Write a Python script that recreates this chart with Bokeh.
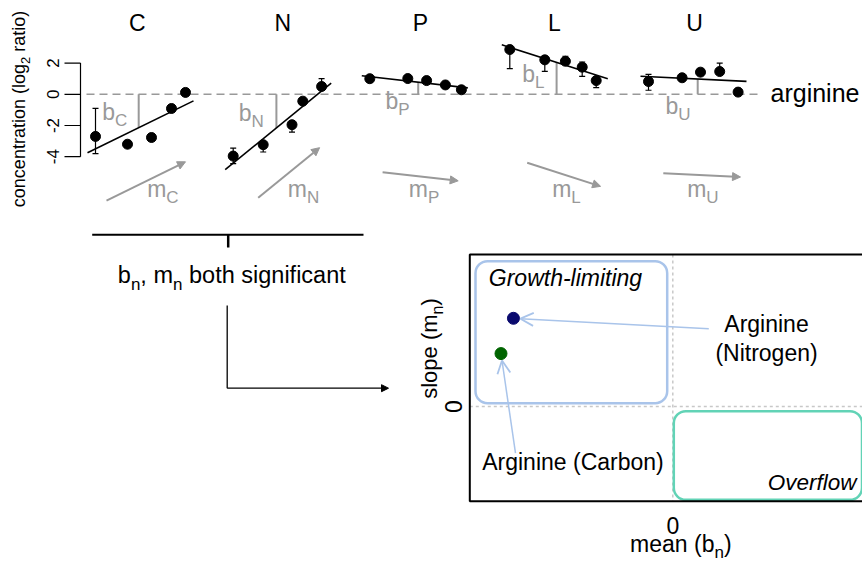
import math
from bokeh.plotting import figure
from bokeh.models import Range1d, Arrow, NormalHead, OpenHead
from bokeh.core.properties import value
from bokeh.embed import file_html
from bokeh.resources import INLINE

# ------------------------------------------------------------------ data
conditions = ["C", "N", "P", "L", "U"]

# growth rate (1/h) of each culture, per limitation
growth_C = [0.05, 0.13, 0.19, 0.24, 0.275]
growth_N = [0.05, 0.125, 0.197, 0.224, 0.271]
growth_P = [0.05, 0.145, 0.192, 0.239, 0.279]
growth_L = [0.05, 0.1375, 0.189, 0.231, 0.266]
growth_U = [0.05, 0.134, 0.18, 0.228, 0.274]

# arginine concentration (log2 ratio)
arg_C = [-2.7, -3.2, -2.77, -0.91, 0.12]
arg_N = [-3.96, -3.23, -1.95, -0.44, 0.5]
arg_P = [1.0, 1.01, 0.88, 0.6, 0.29]
arg_L = [2.87, 2.21, 2.12, 1.74, 0.88]
arg_U = [0.82, 1.06, 1.42, 1.46, 0.14]

# error bar limits
arg_lo_C = [-3.8, -3.4, -2.97, -1.11, -0.08]
arg_hi_C = [-0.9, -3.0, -2.57, -0.71, 0.32]
arg_lo_N = [-4.45, -3.7, -2.42, -0.64, 0.3]
arg_hi_N = [-3.45, -3.03, -1.75, -0.24, 1.0]
arg_lo_P = [0.85, 0.86, 0.73, 0.45, 0.14]
arg_hi_P = [1.15, 1.16, 1.03, 0.75, 0.44]
arg_lo_L = [1.65, 1.47, 1.92, 1.15, 0.43]
arg_hi_L = [3.07, 2.41, 2.44, 2.07, 1.08]
arg_lo_U = [0.26, 0.91, 1.27, 1.31, -0.01]
arg_hi_U = [1.28, 1.21, 1.57, 2.0, 0.29]

# linear fits (value at both ends of the fitted growth range)
fit_growth = [0.03, 0.295]
fit_start = [-3.75, -4.83, 1.19, 3.17, 1.16]
fit_end = [-0.42, 0.71, 0.41, 0.99, 0.83]
# growth rate at which the mean b_n is marked
mean_growth = [0.158, 0.158, 0.171, 0.167, 0.173]

conc_ticks = [-4, -2, 0, 2]
conc_tick_labels = ["-4", "-2", "0", "2"]

# summary: mean b_n vs slope m_n of arginine
summary_labels = ["Arginine (Carbon)", "Arginine (Nitrogen)"]
summary_mean = [-2.07, -1.92]
summary_slope = [12.6, 21.0]
summary_colors = ["#006400", "#0a0a6e"]

growth = dict(C=growth_C, N=growth_N, P=growth_P, L=growth_L, U=growth_U)
arg = dict(C=arg_C, N=arg_N, P=arg_P, L=arg_L, U=arg_U)
arg_lo = dict(C=arg_lo_C, N=arg_lo_N, P=arg_lo_P, L=arg_lo_L, U=arg_lo_U)
arg_hi = dict(C=arg_hi_C, N=arg_hi_N, P=arg_hi_P, L=arg_hi_L, U=arg_hi_U)

# ------------------------------------------------------------------ layout
W, H = 862, 565
FONT = "Liberation Sans"
GRAY = "#999999"
LBLUE = "#a9c4ea"
TEAL = "#62d3b6"
BASE_SHIFT = 0.36   # rendered baseline sits this fraction of the size below the anchor

p = figure(width=W, height=H, x_range=Range1d(0, W), y_range=Range1d(H, 0),
           output_backend="svg", toolbar_location=None, min_border=0,
           x_axis_location=None, y_axis_location=None, outline_line_color=None)
p.grid.visible = False

ARIAL_W = {" ": 278, "(": 333, ")": 333, ",": 278, "-": 333, "0": 556, "2": 556,
           "a": 556, "b": 556, "c": 500, "d": 556, "e": 556, "f": 278, "g": 556,
           "h": 556, "i": 222, "k": 500, "l": 222, "m": 833, "n": 556, "o": 556,
           "p": 556, "r": 333, "s": 500, "t": 278, "u": 556, "v": 500, "w": 722,
           "y": 500, "A": 667, "C": 722, "G": 778, "L": 556, "N": 722, "O": 778,
           "P": 667, "U": 722}


def tw(s, size):
    return sum(ARIAL_W.get(ch, 556) for ch in s) * size / 1000.0


def rich(x, y, parts, size, color="black", anchor="left", rotated=False,
         style="normal", sub_ratio=0.72):
    """x, y: baseline start (rotated: baseline x, start y)."""
    sub = round(size * sub_ratio)
    sizes = [sub if s else size for _, s in parts]
    widths = [tw(t, fs) for (t, _), fs in zip(parts, sizes)]
    total = sum(widths)
    start = {"left": 0, "center": -total / 2, "right": -total}[anchor]
    acc = start
    for (t, s), fs, w in zip(parts, sizes, widths):
        lead = len(t) - len(t.lstrip(" "))
        acc_t = acc + tw(" " * lead, fs)
        shift = (0.28 * size if s else 0) - BASE_SHIFT * fs
        if rotated:
            px, py, ang = x + shift, y - acc_t, math.pi / 2
        else:
            px, py, ang = x + acc_t, y + shift, 0
        p.text(x=[px], y=[py], text=[t.strip(" ")], angle=ang, text_font=value(FONT),
               text_font_size=f"{fs}px", text_color=color, text_align="left",
               text_baseline="alphabetic", text_font_style=style)
        acc += w


# ---- concentration panels
CONC_ZERO_PX = 93.8
CONC_PX = 15.6
p.extra_y_ranges["conc"] = Range1d(start=(CONC_ZERO_PX - H) / CONC_PX,
                                   end=CONC_ZERO_PX / CONC_PX)
GROWTH_PX = 400
panel_origin = [75, 212.7, 349.3, 489.3, 628]
for c, o in zip(conditions, panel_origin):
    p.extra_x_ranges["g" + c] = Range1d(start=-o / GROWTH_PX, end=(W - o) / GROWTH_PX)

# zero reference line
p.line(x=[86, 757], y=[0, 0], y_range_name="conc", line_color=GRAY,
       line_width=1.5, line_dash="8 5")

# y axis of the first panel
p.segment(x0=[80], y0=[conc_ticks[0]], x1=[80], y1=[conc_ticks[-1]],
          y_range_name="conc", line_color="black", line_width=1.2)
p.segment(x0=[64] * len(conc_ticks), y0=conc_ticks, x1=[80] * len(conc_ticks),
          y1=conc_ticks, y_range_name="conc", line_color="black", line_width=1.2)
p.text(x=[52] * len(conc_ticks), y=conc_ticks, text=conc_tick_labels,
       y_range_name="conc", angle=math.pi / 2, text_align="center",
       text_baseline="middle", text_font=value(FONT), text_font_size="17px")
rich(25, 108.5, [("concentration (log", 0), ("2", 1), (" ratio)", 0)], 18,
     rotated=True, anchor="center")

title_x = [136.7, 282.3, 420, 554, 694]
b_left = [101.7, 238.3, 385, 521.7, 665]
b_base = [119.3, 120.7, 108.3, 81.7, 113.3]
m_left = [146.7, 287.3, 408.3, 551.7, 686.7]
arrow_growth0 = [0.0775, 0.1125, 0.082, 0.0935, 0.087]
arrow_growth1 = [0.275, 0.266, 0.271, 0.277, 0.28]
arrow_level = [-6.81, -6.63, -4.99, -4.39, -5.06]

for i, c in enumerate(conditions):
    xr = "g" + c
    g = growth[c]
    frac = (mean_growth[i] - fit_growth[0]) / (fit_growth[1] - fit_growth[0])
    bval = fit_start[i] + frac * (fit_end[i] - fit_start[i])
    p.segment(x0=[mean_growth[i]], y0=[0], x1=[mean_growth[i]], y1=[bval],
              x_range_name=xr, y_range_name="conc", line_color=GRAY, line_width=2)
    p.segment(x0=g, y0=arg_lo[c], x1=g, y1=arg_hi[c], x_range_name=xr,
              y_range_name="conc", line_color="black", line_width=1.2)
    p.scatter(x=g + g, y=arg_lo[c] + arg_hi[c], marker="dash", size=6,
              line_color="black", line_width=1.2, x_range_name=xr, y_range_name="conc")
    p.line(x=fit_growth, y=[fit_start[i], fit_end[i]], x_range_name=xr,
           y_range_name="conc", line_color="black", line_width=1.6)
    p.scatter(x=g, y=arg[c], size=10, color="black", x_range_name=xr,
              y_range_name="conc")
    slope = (fit_end[i] - fit_start[i]) / (fit_growth[1] - fit_growth[0])
    p.add_layout(Arrow(end=NormalHead(size=8, fill_color=GRAY, line_color=GRAY),
                       x_start=arrow_growth0[i], y_start=arrow_level[i],
                       x_end=arrow_growth1[i],
                       y_end=arrow_level[i] + slope * (arrow_growth1[i] - arrow_growth0[i]),
                       x_range_name=xr, y_range_name="conc",
                       line_color=GRAY, line_width=2))
    rich(title_x[i], 30.5, [(c, 0)], 23, anchor="center")
    rich(b_left[i], b_base[i], [("b", 0), (c, 1)], 23, color=GRAY)
    rich(m_left[i], 196.7, [("m", 0), (c, 1)], 23, color=GRAY)

rich(770, 101.7, [("arginine", 0)], 25)

# ---- bracket and connector
p.line(x=[91.7, 363], y=[234.3, 234.3], line_color="black", line_width=2)
p.line(x=[227.7, 227.7], y=[234.3, 247], line_color="black", line_width=2.5)
rich(231.3, 283.3, [("b", 0), ("n", 1), (", m", 0), ("n", 1), (" both significant", 0)],
     23.5, anchor="center")
p.line(x=[226.7, 226.7], y=[305, 387.7], line_color="black", line_width=1.3)
p.add_layout(Arrow(end=NormalHead(size=7, fill_color="black", line_color="black"),
                   x_start=226.7, y_start=387.7, x_end=388, y_end=387.7,
                   line_color="black", line_width=1.3))

# ---- summary scatter
SX0, SXS = 672.3, 83.0
SY0, SYS = 406.0, 4.2
p.extra_x_ranges["mean"] = Range1d(-SX0 / SXS, (W - SX0) / SXS)
p.extra_y_ranges["slope"] = Range1d((SY0 - H) / SYS, SY0 / SYS)
BOX_L, BOX_T, BOX_B = 469.3, 254, 500.7

p.segment(x0=[0], y0=[BOX_T], x1=[0], y1=[BOX_B], x_range_name="mean",
          line_color="#c8c8c8", line_width=1.5, line_dash="3 3")
p.segment(x0=[BOX_L], y0=[0], x1=[W + 10], y1=[0], y_range_name="slope",
          line_color="#c8c8c8", line_width=1.5, line_dash="3 3")
p.quad(left=[475], right=[666.7], top=[260.7], bottom=[402.7], fill_color=None,
       line_color=LBLUE, line_width=2.5, border_radius=12)
p.quad(left=[673.3], right=[861.5], top=[410.7], bottom=[499.3], fill_color=None,
       line_color=TEAL, line_width=2.5, border_radius=12)
p.quad(left=[BOX_L], right=[W + 20], top=[BOX_T], bottom=[BOX_B], fill_color=None,
       line_color="black", line_width=2)

p.scatter(x=summary_mean, y=summary_slope, size=12, color=summary_colors,
          x_range_name="mean", y_range_name="slope")

label_tail = [(515, 452.7), (708.3, 328.3)]
for (tx, ty), mx, my in zip(label_tail, summary_mean, summary_slope):
    px, py = SX0 + mx * SXS, SY0 - my * SYS
    d = math.hypot(tx - px, ty - py)
    ex, ey = px + (tx - px) / d * 7, py + (ty - py) / d * 7
    p.add_layout(Arrow(end=OpenHead(size=13, line_color=LBLUE, line_width=1.8),
                       x_start=tx, y_start=ty, x_end=ex, y_end=ey,
                       line_color=LBLUE, line_width=1.5))

rich(488.3, 285.5, [("Growth-limiting", 0)], 23, style="italic")
rich(856, 490, [("Overflow", 0)], 22.5, anchor="right", style="italic")
rich(766, 331.7, [("Arginine", 0)], 23, anchor="center")
rich(766, 360.7, [("(Nitrogen)", 0)], 23, anchor="center")
rich(481.7, 470, [(summary_labels[0], 0)], 23)
rich(672.3, 533.3, [("0", 0)], 23, anchor="center")
rich(680.3, 551.7, [("mean (b", 0), ("n", 1), (")", 0)], 23, anchor="center")
rich(461, 406, [("0", 0)], 23, anchor="center", rotated=True)
rich(437, 348, [("slope (m", 0), ("n", 1), (")", 0)], 22, anchor="center", rotated=True)

open("out.html", "w").write(file_html(p, INLINE))
